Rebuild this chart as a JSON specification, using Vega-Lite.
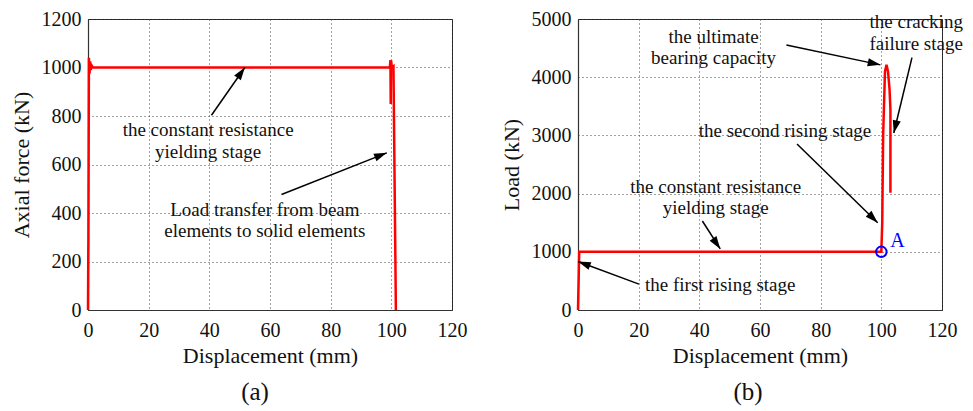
{
  "$schema": "https://vega.github.io/schema/vega-lite/v6.json",
  "background": "white",
  "padding": {"left": 9, "top": 8, "right": 5, "bottom": 0},
  "config": {
    "font": "Liberation Serif",
    "view": {"stroke": "#222", "strokeWidth": 1},
    "text": {"font": "Liberation Serif"},
    "axis": {
      "labelFont": "Liberation Serif", "labelFontSize": 20, "labelColor": "#111",
      "titleFont": "Liberation Serif", "titleFontSize": 22, "titleFontWeight": "normal", "titleColor": "#111",
      "grid": true, "gridColor": "#444", "gridDash": [1, 3], "gridWidth": 1,
      "domainColor": "#333", "domainWidth": 1.2,
      "ticks": false, "labelFlush": false, "labelOverlap": false, "format": "d"
    },
    "axisX": {"labelPadding": 10, "titlePadding": 5},
    "axisY": {"labelPadding": 7, "titlePadding": 8},
    "title": {"font": "Liberation Serif", "fontSize": 25, "fontWeight": "normal", "color": "#111", "orient": "bottom", "frame": "group", "anchor": "middle", "offset": 14}
  },
  "datasets": {
    "curveA": [
      {"i": 0, "x": 0, "y": 0}, {"i": 1, "x": 0.1, "y": 250}, {"i": 2, "x": 0.15, "y": 300}, {"i": 3, "x": 0.12, "y": 250},
      {"i": 4, "x": 0.3, "y": 1040}, {"i": 5, "x": 0.5, "y": 975}, {"i": 6, "x": 0.7, "y": 1025}, {"i": 7, "x": 0.9, "y": 990},
      {"i": 8, "x": 1.2, "y": 1008}, {"i": 9, "x": 1.6, "y": 1000}, {"i": 10, "x": 99.5, "y": 1000}, {"i": 11, "x": 99.7, "y": 1030},
      {"i": 12, "x": 99.8, "y": 850}, {"i": 13, "x": 99.9, "y": 1030}, {"i": 14, "x": 100.2, "y": 1000}, {"i": 15, "x": 100.7, "y": 1005},
      {"i": 16, "x": 101.5, "y": 0}
    ],
    "curveB": [
      {"i": 0, "x": 0, "y": 0}, {"i": 1, "x": 0.4, "y": 1000}, {"i": 2, "x": 100, "y": 1000}, {"i": 3, "x": 100.3, "y": 1500},
      {"i": 4, "x": 100.6, "y": 3000}, {"i": 5, "x": 101.2, "y": 4100}, {"i": 6, "x": 101.7, "y": 4212}, {"i": 7, "x": 102.2, "y": 4100},
      {"i": 8, "x": 102.7, "y": 3800}, {"i": 9, "x": 103.0, "y": 3450}, {"i": 10, "x": 103.0, "y": 2014}
    ],
    "arrowsA": [
      {"x": 51.7, "y": 1000, "x2": 40.7, "y2": 803, "angle": 34.9},
      {"x": 98.5, "y": 648, "x2": 63.8, "y2": 476, "angle": 68.3}
    ],
    "arrowsB": [
      {"x": 0, "y": 832, "x2": 20.1, "y2": 445, "angle": -69.9},
      {"x": 46.9, "y": 1050, "x2": 41.0, "y2": 1529, "angle": 145.6},
      {"x": 98.8, "y": 1500, "x2": 72.2, "y2": 2853, "angle": 134.4},
      {"x": 99.7, "y": 4212, "x2": 68.7, "y2": 4555, "angle": 102},
      {"x": 104.1, "y": 3041, "x2": 110.1, "y2": 4337, "angle": 193.7}
    ],
    "textA": [
      {"x": 39.6, "y": 716, "label": "the constant resistance\nyielding stage"},
      {"x": 58.3, "y": 389, "label": "Load transfer from beam\nelements to solid elements"}
    ],
    "textBc": [
      {"x": 45.4, "y": 2014, "label": "the constant resistance\nyielding stage"},
      {"x": 44.7, "y": 4589, "label": "the ultimate\nbearing capacity"},
      {"x": 111.5, "y": 4839, "label": "the cracking\nfailure stage"}
    ],
    "textBl": [
      {"x": 22.1, "y": 318, "label": "the first rising stage"},
      {"x": 39.8, "y": 2967, "label": "the second rising stage"}
    ],
    "pointA": [
      {"x": 100, "y": 1000, "label": "A"}
    ]
  },
  "bounds": "flush",
  "spacing": 126,
  "hconcat": [
    {
      "width": 364,
      "height": 291,
      "title": {"text": "(a)", "dx": -15},
      "encoding": {
        "x": {"field": "x", "type": "quantitative", "scale": {"domain": [0, 120], "nice": false}, "axis": {"values": [0, 20, 40, 60, 80, 100, 120], "title": "Displacement (mm)"}},
        "y": {"field": "y", "type": "quantitative", "scale": {"domain": [0, 1200], "nice": false}, "axis": {"values": [0, 200, 400, 600, 800, 1000, 1200], "title": "Axial force (kN)"}}
      },
      "layer": [
        {
          "data": {"name": "curveA"},
          "mark": {"type": "line", "color": "#ff0000", "strokeWidth": 2.5, "clip": false},
          "encoding": {"order": {"field": "i", "type": "quantitative"}}
        },
        {
          "data": {"name": "arrowsA"},
          "mark": {"type": "rule", "color": "#000", "strokeWidth": 1.5},
          "encoding": {"x2": {"field": "x2"}, "y2": {"field": "y2"}}
        },
        {
          "data": {"name": "arrowsA"},
          "mark": {"type": "point", "shape": "M0,0L-0.32,1L0.32,1Z", "filled": true, "color": "#000", "opacity": 1, "size": 650},
          "encoding": {"angle": {"field": "angle", "type": "quantitative", "scale": null}}
        },
        {
          "data": {"name": "textA"},
          "mark": {"type": "text", "align": "center", "baseline": "alphabetic", "fontSize": 19, "lineBreak": "\n", "lineHeight": 21.5, "color": "#111"},
          "encoding": {"text": {"field": "label"}}
        }
      ]
    },
    {
      "width": 364,
      "height": 291,
      "title": {"text": "(b)", "dx": -12},
      "encoding": {
        "x": {"field": "x", "type": "quantitative", "scale": {"domain": [0, 120], "nice": false}, "axis": {"values": [0, 20, 40, 60, 80, 100, 120], "title": "Displacement (mm)"}},
        "y": {"field": "y", "type": "quantitative", "scale": {"domain": [0, 5000], "nice": false}, "axis": {"values": [0, 1000, 2000, 3000, 4000, 5000], "title": "Load (kN)"}}
      },
      "layer": [
        {
          "data": {"name": "curveB"},
          "mark": {"type": "line", "color": "#ff0000", "strokeWidth": 2.5, "clip": false},
          "encoding": {"order": {"field": "i", "type": "quantitative"}}
        },
        {
          "data": {"name": "arrowsB"},
          "mark": {"type": "rule", "color": "#000", "strokeWidth": 1.5},
          "encoding": {"x2": {"field": "x2"}, "y2": {"field": "y2"}}
        },
        {
          "data": {"name": "arrowsB"},
          "mark": {"type": "point", "shape": "M0,0L-0.32,1L0.32,1Z", "filled": true, "color": "#000", "opacity": 1, "size": 650},
          "encoding": {"angle": {"field": "angle", "type": "quantitative", "scale": null}}
        },
        {
          "data": {"name": "textBc"},
          "mark": {"type": "text", "align": "center", "baseline": "alphabetic", "fontSize": 19, "lineBreak": "\n", "lineHeight": 21.5, "color": "#111"},
          "encoding": {"text": {"field": "label"}}
        },
        {
          "data": {"name": "textBl"},
          "mark": {"type": "text", "align": "left", "baseline": "alphabetic", "fontSize": 19, "color": "#111"},
          "encoding": {"text": {"field": "label"}}
        },
        {
          "data": {"name": "pointA"},
          "mark": {"type": "point", "shape": "circle", "filled": false, "color": "#0000ff", "strokeWidth": 2, "opacity": 1, "size": 110},
          "encoding": {}
        },
        {
          "data": {"name": "pointA"},
          "mark": {"type": "text", "align": "left", "baseline": "alphabetic", "fontSize": 20, "color": "#0000ff", "dx": 9, "dy": -5},
          "encoding": {"text": {"field": "label"}}
        }
      ]
    }
  ]
}
